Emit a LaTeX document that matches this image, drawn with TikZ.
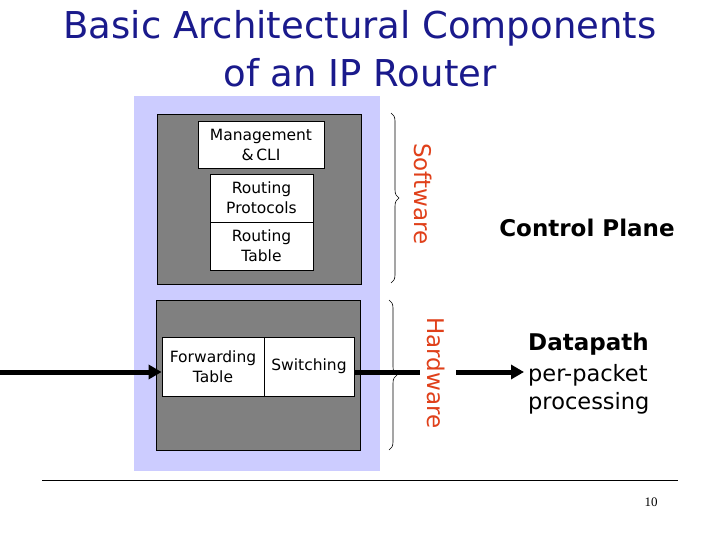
\documentclass[tikz,border=0pt]{standalone}
\usepackage{fontspec}
\setmainfont{DejaVu Sans}
\newfontfamily\numfont{Liberation Serif}
\usetikzlibrary{decorations.pathreplacing,arrows.meta}
\definecolor{lav}{HTML}{CCCCFF}
\definecolor{grayb}{HTML}{808080}
\definecolor{navy}{HTML}{1A1A8C}
\definecolor{redor}{HTML}{E0401A}
\begin{document}
\begin{tikzpicture}[x=1pt,y=-1pt,
  panel/.style={fill=lav,draw=none,inner sep=0pt},
  graybox/.style={fill=grayb,draw=black,line width=0.8pt,inner sep=0pt},
  wbox/.style={fill=white,draw=black,line width=0.8pt,inner sep=0pt,align=center,font=\fontsize{15.5}{20}\selectfont},
  brc/.style={decorate,decoration={brace,amplitude=8pt},line width=0.6pt},
  sidelbl/.style={text=redor,rotate=-90,font=\fontsize{23}{25}\selectfont},
  fat/.style={line width=5pt},
  fatarrow/.style={line width=5pt,-{Triangle[length=13pt,width=14pt]}},
  rlbl/.style={anchor=west,inner sep=0pt,font=\fontsize{22.5}{25}\selectfont},
  ttl/.style={text=navy,font=\fontsize{37}{42}\selectfont}]
\useasboundingbox (0,0) rectangle (720,540);
\fill[white] (0,0) rectangle (720,540);
% title
\node[ttl] (t1) at (360,28) {Basic Architectural Components};
\node[ttl] (t2) at (360,73) {of an IP Router};
% panels
\node[panel,minimum width=246pt,minimum height=375pt] (bg) at (257,283.5) {};
\node[graybox,minimum width=204pt,minimum height=170pt] (up) at (259,199) {};
\node[graybox,minimum width=204pt,minimum height=150pt] (lo) at (258,375) {};
% software boxes
\node[wbox,minimum width=126pt,minimum height=47pt] (mg) at (261,144.5) {Management\\\&\,CLI};
\node[wbox,minimum width=103pt,minimum height=48pt] (rp) at (261.5,198) {Routing\\Protocols};
\node[wbox,minimum width=103pt,minimum height=48pt] (rt) at (261.5,246) {Routing\\Table};
% hardware boxes
\node[wbox,minimum width=102pt,minimum height=59pt] (fw) at (213,366.5) {Forwarding\\Table};
\node[wbox,minimum width=90pt,minimum height=59pt] (sw) at (309,366.5) {Switching};
% braces
\coordinate (sb1) at (391,113);
\coordinate (sb2) at (391,283);
\draw[brc] (sb1) -- (sb2);
\coordinate (hb1) at (389,300);
\coordinate (hb2) at (389,450);
\draw[brc] (hb1) -- (hb2);
\node[sidelbl] (swl) at (423,194) {Software};
\node[sidelbl] (hwl) at (436,373) {Hardware};
% arrows
\coordinate (in) at (0,372);
\draw[fatarrow] (in) -- (in -| fw.west);
\coordinate (g1) at (420,372);
\coordinate (g2) at (456,372);
\coordinate (out) at (524,372);
\draw[fat] (in -| sw.east) -- (g1);
\draw[fatarrow] (g2) -- (out);
% right labels
\node[font=\bfseries\fontsize{23}{26}\selectfont] (cp) at (587,228) {Control Plane};
\node[rlbl,font=\bfseries\fontsize{23}{26}\selectfont] (dp) at (528,344) {Datapath};
\node[rlbl] (pp) at (528,375) {per-packet};
\node[rlbl] (pr) at (528,403) {processing};
% footer
\coordinate (l1) at (42,480);
\coordinate (l2) at (678,480);
\draw[line width=0.8pt] (l1) -- (l2);
\node[font=\numfont\fontsize{13}{15}\selectfont] (pg) at (651,502) {10};
\end{tikzpicture}
\end{document}
